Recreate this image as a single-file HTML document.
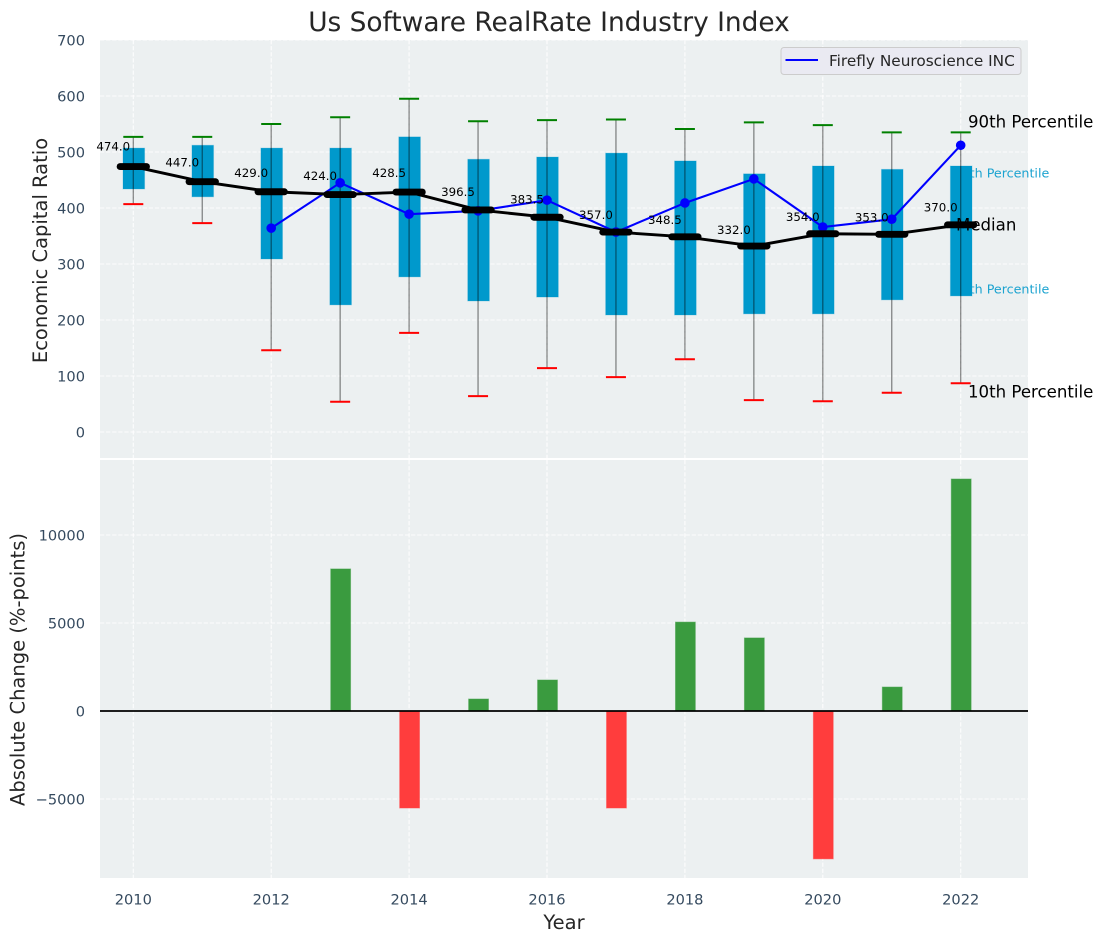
<!DOCTYPE html>
<html lang="en">
<head>
<meta charset="utf-8">
<title>Us Software RealRate Industry Index</title>
<style>
html,body{margin:0;padding:0;background:#fff;}
#chart{display:block;width:1103px;height:942px;font-family:"DejaVu Sans","Liberation Sans",sans-serif;}
</style>
</head>
<body>
<svg id="chart" xmlns="http://www.w3.org/2000/svg" width="1103" height="942" viewBox="0 0 1103 942">
  <rect x="100" y="40" width="928" height="418" fill="#ecf0f1"/>
  <rect x="100" y="460" width="928" height="418" fill="#ecf0f1"/>
  <g id="grid"></g>
  <g id="ticks"></g>
  <text x="549" y="31" font-size="26.4px" fill="#262626" text-anchor="middle">Us Software RealRate Industry Index</text>
  <text transform="translate(47,250.5) rotate(-90)" font-size="19.5px" fill="#262626" text-anchor="middle">Economic Capital Ratio</text>
  <text transform="translate(24.5,669.5) rotate(-90)" font-size="19.5px" fill="#262626" text-anchor="middle">Absolute Change (%-points)</text>
  <text x="564" y="929" font-size="19.5px" fill="#262626" text-anchor="middle">Year</text>
  <text x="953.5" y="177.5" font-size="12.7px" fill="#1ca3d0">75th Percentile</text>
  <text x="953.5" y="293.5" font-size="12.7px" fill="#1ca3d0">25th Percentile</text>
  <g id="marks"></g>
  <text x="968" y="127.5" font-size="16.6px" fill="#000">90th Percentile</text>
  <text x="956" y="230.5" font-size="16.6px" fill="#000">Median</text>
  <text x="968" y="397.5" font-size="16.6px" fill="#000">10th Percentile</text>
  <g>
    <rect x="781" y="47.5" width="240" height="27" rx="3" fill="#eaeaf2" stroke="#cccccc" stroke-width="1"/>
    <line x1="785.5" y1="60" x2="818" y2="60" stroke="#0000ff" stroke-width="2.1"/>
    <text x="829" y="66" font-size="15.3px" fill="#262626">Firefly Neuroscience INC</text>
  </g>
</svg>
<script>
const years = [2010,2011,2012,2013,2014,2015,2016,2017,2018,2019,2020,2021,2022];
const p90 = [527,527,550,562,595,555,557,558,541,553,548,535,535];
const p75 = [507,512,507,507,527,487,491,498,484,461,475,469,475];
const medians = [474,447,429,424,428.5,396.5,383.5,357,348.5,332,354,353,370];
const p25 = [434,420,309,227,277,234,241,209,209,211,211,236,243];
const p10 = [407,373,146,54,177,64,114,98,130,57,55,70,87];
const firefly = [null,null,364,445,389,395,414,357,409,452,366,380,512];
const changes = [null,null,null,8070,-5510,680,1760,-5510,5050,4150,-8400,1360,13180];
const xTicks = [2010,2012,2014,2016,2018,2020,2022];
const topTicks = [0,100,200,300,400,500,600,700];
const bottomTicks = [-5000,0,5000,10000];

const NS = 'http://www.w3.org/2000/svg';
const X = v => 133.3 + (v - 2010) * 68.95;
const YT = v => 432 - v * 0.56;
const YB = v => 711 - v * 0.0176;
const gridG = document.getElementById('grid');
const ticksG = document.getElementById('ticks');
const marksG = document.getElementById('marks');

function el(tag, attrs, parent) {
  const e = document.createElementNS(NS, tag);
  for (const k in attrs) e.setAttribute(k, attrs[k]);
  parent.appendChild(e);
  return e;
}
const gridStyle = {stroke:'#ffffff','stroke-width':1.1,'stroke-dasharray':'4.2,1.9',opacity:0.9};

xTicks.forEach(t => {
  [[40,458],[460,878]].forEach(([a,b]) => {
    const g = el('line', Object.assign({x1:X(t),x2:X(t),y1:a,y2:b}, gridStyle), gridG);
    
    
  });
  const l = el('text', {x:X(t),y:904.3,'font-size':'14.6px',fill:'#34495e','text-anchor':'middle'}, ticksG);
  
  
  l.textContent = t;
});
topTicks.forEach(t => {
  const g = el('line', Object.assign({x1:100,x2:1028,y1:YT(t),y2:YT(t)}, gridStyle), gridG);
  
  
  const l = el('text', {x:85,y:YT(t)+5.3,'font-size':'14.6px',fill:'#34495e','text-anchor':'end'}, ticksG);
  
  
  l.textContent = t;
});
bottomTicks.forEach(t => {
  const g = el('line', Object.assign({x1:100,x2:1028,y1:YB(t),y2:YB(t)}, gridStyle), gridG);
  
  
  const l = el('text', {x:85,y:YB(t)+5.3,'font-size':'14.6px',fill:'#34495e','text-anchor':'end'}, ticksG);
  
  
  l.textContent = String(t).replace('-', '\u2212');
});

/* boxes */
years.forEach((y, i) => {
  const b = el('rect', {x:X(y)-10.3,y:YT(p75[i]),width:21.6,height:YT(p25[i])-YT(p75[i]),fill:'#0099cc',stroke:'#0099cc','stroke-opacity':0.25,'stroke-width':1}, marksG);
  
  
});
/* whiskers and caps */
years.forEach((y, i) => {
  const w = el('line', {x1:X(y),x2:X(y),y1:YT(p90[i]),y2:YT(p10[i]),stroke:'#000','stroke-opacity':0.45,'stroke-width':1.3}, marksG);
  
  
  const top = el('line', {x1:X(y)-10,x2:X(y)+10,y1:YT(p90[i]),y2:YT(p90[i]),stroke:'#008000','stroke-width':2}, marksG);
  
  
  const bot = el('line', {x1:X(y)-10,x2:X(y)+10,y1:YT(p10[i]),y2:YT(p10[i]),stroke:'#ff0000','stroke-width':2}, marksG);
  
  
});
/* firefly line */
const fireflyPts = years.map((y, i) => firefly[i] === null ? null : X(y) + ',' + YT(firefly[i])).filter(Boolean).join(' ');
const fl = el('polyline', {points:fireflyPts,fill:'none',stroke:'#0000ff','stroke-width':2.1}, marksG);


years.forEach((y, i) => {
  if (firefly[i] === null) return;
  const c = el('circle', {cx:X(y),cy:YT(firefly[i]),r:4.8,fill:'#0000ff'}, marksG);
  
  
});
/* median line and thick bars */
const medPts = years.map((y, i) => X(y) + ',' + YT(medians[i])).join(' ');
const ml = el('polyline', {points:medPts,fill:'none',stroke:'#000','stroke-width':2.9}, marksG);


years.forEach((y, i) => {
  const m = el('line', {x1:X(y)-13.2,x2:X(y)+13.2,y1:YT(medians[i]),y2:YT(medians[i]),stroke:'#000','stroke-width':6.9,'stroke-linecap':'round'}, marksG);
  
  
  const t = el('text', {x:X(y)-20,y:YT(medians[i])-(0.028*medians[i]+6.7)+3.8,'font-size':'11.8px',fill:'#000','text-anchor':'middle'}, marksG);
  
  
  t.textContent = medians[i].toFixed(1);
});
/* change bars */
years.forEach((y, i) => {
  const v = changes[i];
  if (v === null) return;
  const r = el('rect', {x:X(y)-9.4,y:Math.min(YB(v),YB(0)),width:19.8,height:Math.abs(YB(v)-YB(0)),fill:v >= 0 ? '#3a9b3f' : '#ff3d3d',stroke:v >= 0 ? '#3a9b3f' : '#ff3d3d','stroke-opacity':0.5,'stroke-width':1}, marksG);
  
  
});
const zero = el('line', {x1:100,x2:1028,y1:YB(0),y2:YB(0),stroke:'#000','stroke-width':1.7}, marksG);


</script>
</body>
</html>
